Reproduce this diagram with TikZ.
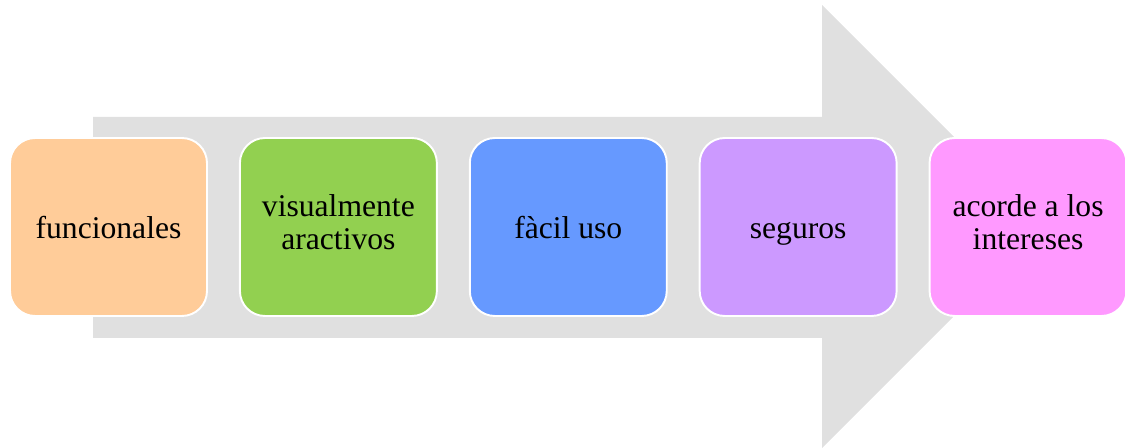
\documentclass[tikz,border=0pt]{standalone}
\usepackage{fontspec}
\setmainfont{Liberation Serif}
\usetikzlibrary{positioning}
\definecolor{arrowgray}{HTML}{E0E0E0}
\definecolor{cfun}{HTML}{FFCC99}
\definecolor{cvis}{HTML}{92D050}
\definecolor{cuso}{HTML}{6699FF}
\definecolor{cseg}{HTML}{CC99FF}
\definecolor{cint}{HTML}{FF99FF}
\tikzset{
  stepbox/.style={draw=white,line width=1.1pt,rounded corners=0.5cm,
    minimum width=3.94cm,minimum height=3.56cm,align=center,
    font=\fontsize{18}{19}\selectfont,inner sep=0pt,
    execute at begin node={\rule{0pt}{19pt}},execute at end node=\strut}
}
\begin{document}
\begin{tikzpicture}[x=0.02cm,y=-0.02cm,node distance=0.62cm]
	\useasboundingbox (0,0) rectangle (1125,448);
	\fill[arrowgray] (93,117)--(822,117)--(822,5)--(1043.5,226.5)--(822,448)--(822,338)--(93,338)--cycle;
	\node[stepbox,fill=cfun] (fun) at (108.5,227) {funcionales};
	\node[stepbox,fill=cvis,right=of fun] (vis) {visualmente\\aractivos};
	\node[stepbox,fill=cuso,right=of vis] (uso) {fàcil uso};
	\node[stepbox,fill=cseg,right=of uso] (seg) {seguros};
	\node[stepbox,fill=cint,right=of seg] (int) {acorde a los\\intereses};
\end{tikzpicture}
\end{document}
